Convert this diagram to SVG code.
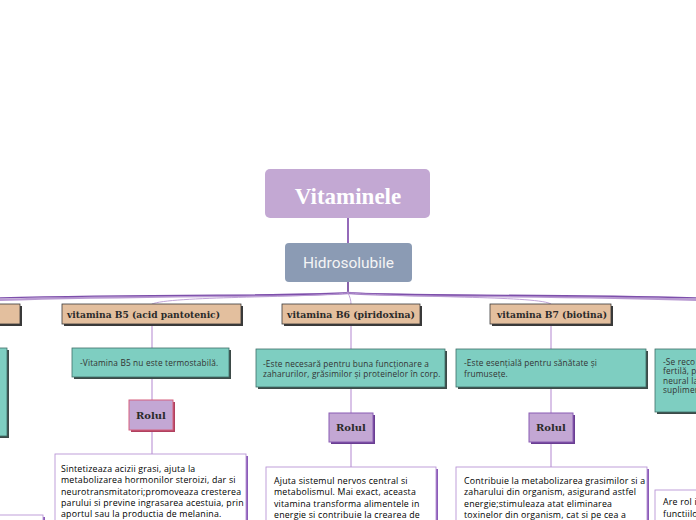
<svg xmlns="http://www.w3.org/2000/svg" width="696" height="520" viewBox="0 0 696 520">
<style>
.branch{fill:#e3bf9e;stroke:#3a3a3a;stroke-width:0.8}
.bshadow{fill:#3a3a3a}
.teal{fill:#7ecec1;stroke:#3f6f68;stroke-width:0.8}
.tshadow{fill:#3d4a48}
.rol{fill:#c3a7d4;stroke:#8a5cb4;stroke-width:1}
.rshadow{fill:#6a3e92}
.note{fill:#ffffff;stroke:#b996d6;stroke-width:0.9}
.nshadow{fill:#8b5cb8}
.btxt{font-family:"DejaVu Serif",serif;font-weight:bold;font-size:9.5px;fill:#2a2a2a}
.rtxt{font-family:"DejaVu Serif",serif;font-weight:bold;font-size:10px;fill:#2a2a2a;text-anchor:middle}
.ttxt{font-family:"Open Sans","Noto Sans",sans-serif;font-size:8.3px;letter-spacing:0.15px;fill:#333333}
.ntxt{font-family:"Open Sans","Noto Sans",sans-serif;font-size:8.8px;letter-spacing:0.2px;fill:#000000}
.vline{stroke:#c9aade;stroke-width:1.4;fill:none}
.fan{fill:none;stroke-linecap:round}
</style>

<g id="connectors">
  <line x1="348" y1="218" x2="348" y2="243" stroke="#7a45a8" stroke-width="1.6"/>
  <line x1="348" y1="282" x2="348" y2="293" stroke="#6b3a96" stroke-width="1.6"/>
  <path class="fan" d="M348,293 C300,297 150,295 -5,300" stroke="#b99ad2" stroke-width="2.4"/>
  <path class="fan" d="M348,293 C300,296 150,294 -5,298" stroke="#7d4fab" stroke-width="1.3"/>
  <path class="fan" d="M348,293 C400,297 550,295 701,300" stroke="#b99ad2" stroke-width="2.4"/>
  <path class="fan" d="M348,293 C400,296 550,294 701,298" stroke="#7d4fab" stroke-width="1.3"/>
  <path class="fan" d="M348,293 C300,298 170,296 152,304" stroke="#b99ad2" stroke-width="0.9"/>
  <path class="fan" d="M348,293 C350,297 351,300 351,304" stroke="#b99ad2" stroke-width="0.9"/>
  <path class="fan" d="M348,293 C420,298 540,296 551,304" stroke="#b99ad2" stroke-width="0.9"/>
  <path class="vline" d="M152,325 V348 M152,377 V400 M152,430 V455"/>
  <path class="vline" d="M351,325 V349 M351,388 V413 M351,442 V467"/>
  <path class="vline" d="M551,325 V349 M551,388 V413 M551,442 V467"/>
</g>

<g id="root">
  <rect x="265" y="169" width="165" height="49" rx="5" fill="#c3a8d3"/>
  <text x="348" y="204" text-anchor="middle" font-family="Liberation Serif,serif" font-weight="bold" font-size="23" fill="#ffffff">Vitaminele</text>
</g>

<g id="hidrosolubile">
  <rect x="285" y="243" width="127" height="39" rx="4" fill="#8b9bb4"/>
  <text x="303" y="268" font-family="Roboto,sans-serif" font-size="15" fill="#f4f4f4" textLength="91" lengthAdjust="spacingAndGlyphs">Hidrosolubile</text>
</g>

<g id="branch-left">
  <rect x="-10" y="306" width="32" height="20" class="bshadow"/>
  <rect x="-10" y="304" width="30" height="20" class="branch"/>
</g>
<g id="teal-left">
  <rect x="-10" y="350" width="19" height="88" class="tshadow"/>
  <rect x="-10" y="348" width="17" height="88" class="teal"/>
</g>
<g id="note-left">
  <rect x="-10" y="517" width="55" height="20" class="nshadow"/>
  <rect x="-10" y="515" width="53" height="20" class="note"/>
</g>

<g id="b5">
  <rect x="64" y="306" width="179" height="20" class="bshadow"/>
  <rect x="62" y="304" width="179" height="20" class="branch"/>
  <text x="67" y="318" class="btxt" textLength="153" lengthAdjust="spacingAndGlyphs">vitamina B5 (acid pantotenic)</text>
</g>
<g id="b5-info">
  <rect x="74" y="350" width="157" height="29" class="tshadow"/>
  <rect x="72" y="348" width="157" height="29" class="teal"/>
  <text x="80" y="365.5" class="ttxt">-Vitamina B5 nu este termostabilă.</text>
</g>
<g id="b5-rolul">
  <rect x="131" y="402" width="44" height="30" fill="#b0405f"/>
  <rect x="129" y="400" width="44" height="30" fill="#c3a7d4" stroke="#d6607f" stroke-width="1"/>
  <text x="151" y="419" class="rtxt">Rolul</text>
</g>
<g id="b5-note">
  <rect x="57" y="456" width="191" height="80" class="nshadow"/>
  <rect x="55" y="454" width="191" height="80" class="note"/>
  <text class="ntxt">
    <tspan x="61" y="472">Sintetizeaza acizii grasi, ajuta la</tspan>
    <tspan x="61" y="483.3">metabolizarea hormonilor steroizi, dar si</tspan>
    <tspan x="61" y="494.6">neurotransmitatori;promoveaza cresterea</tspan>
    <tspan x="61" y="505.9">parului si previne ingrasarea acestuia, prin</tspan>
    <tspan x="61" y="517">aportul sau la productia de melanina.</tspan>
  </text>
</g>

<g id="b6">
  <rect x="284" y="306" width="138" height="20" class="bshadow"/>
  <rect x="282" y="304" width="138" height="20" class="branch"/>
  <text x="287" y="318" class="btxt" textLength="128" lengthAdjust="spacingAndGlyphs">vitamina B6 (piridoxina)</text>
</g>
<g id="b6-info">
  <rect x="258" y="351" width="189" height="38" class="tshadow"/>
  <rect x="256" y="349" width="189" height="38" class="teal"/>
  <text class="ttxt">
    <tspan x="263" y="366.5">-Este necesară pentru buna funcționare a</tspan>
    <tspan x="263" y="377">zaharurilor, grăsimilor și proteinelor în corp.</tspan>
  </text>
</g>
<g id="b6-rolul">
  <rect x="331" y="415" width="44" height="29" class="rshadow"/>
  <rect x="329" y="413" width="44" height="29" class="rol"/>
  <text x="351" y="431" class="rtxt">Rolul</text>
</g>
<g id="b6-note">
  <rect x="268" y="469" width="170" height="70" class="nshadow"/>
  <rect x="266" y="467" width="170" height="70" class="note"/>
  <text class="ntxt">
    <tspan x="274" y="483.5">Ajuta sistemul nervos central si</tspan>
    <tspan x="274" y="495">metabolismul. Mai exact, aceasta</tspan>
    <tspan x="274" y="506.5">vitamina transforma alimentele in</tspan>
    <tspan x="274" y="518">energie si contribuie la crearea de</tspan>
  </text>
</g>

<g id="b7">
  <rect x="492" y="306" width="121" height="20" class="bshadow"/>
  <rect x="490" y="304" width="121" height="20" class="branch"/>
  <text x="497" y="318" class="btxt" textLength="110" lengthAdjust="spacingAndGlyphs">vitamina B7 (biotina)</text>
</g>
<g id="b7-info">
  <rect x="458" y="351" width="190" height="38" class="tshadow"/>
  <rect x="456" y="349" width="190" height="38" class="teal"/>
  <text class="ttxt">
    <tspan x="464" y="366">-Este esențială pentru sănătate și</tspan>
    <tspan x="464" y="376.5">frumusețe.</tspan>
  </text>
</g>
<g id="b7-rolul">
  <rect x="531" y="415" width="44" height="29" class="rshadow"/>
  <rect x="529" y="413" width="44" height="29" class="rol"/>
  <text x="551" y="431" class="rtxt">Rolul</text>
</g>
<g id="b7-note">
  <rect x="458" y="469" width="191" height="70" class="nshadow"/>
  <rect x="456" y="467" width="191" height="70" class="note"/>
  <text class="ntxt">
    <tspan x="464" y="483.5">Contribuie la metabolizarea grasimilor si a</tspan>
    <tspan x="464" y="495">zaharului din organism, asigurand astfel</tspan>
    <tspan x="464" y="506.5">energie;stimuleaza atat eliminarea</tspan>
    <tspan x="464" y="518">toxinelor din organism, cat si pe cea a</tspan>
  </text>
</g>

<g id="teal-right">
  <rect x="657" y="351" width="60" height="63" class="tshadow"/>
  <rect x="655" y="349" width="60" height="63" class="teal"/>
  <text class="ttxt">
    <tspan x="663" y="364.5">-Se reco</tspan>
    <tspan x="663" y="374">fertilă, p</tspan>
    <tspan x="663" y="383.5">neural la</tspan>
    <tspan x="663" y="393">suplimen</tspan>
  </text>
</g>
<g id="note-right">
  <rect x="657" y="492" width="60" height="50" class="nshadow"/>
  <rect x="655" y="490" width="60" height="50" class="note"/>
  <text class="ntxt">
    <tspan x="663" y="505">Are rol i</tspan>
    <tspan x="663" y="517">functiilo</tspan>
  </text>
</g>
</svg>
